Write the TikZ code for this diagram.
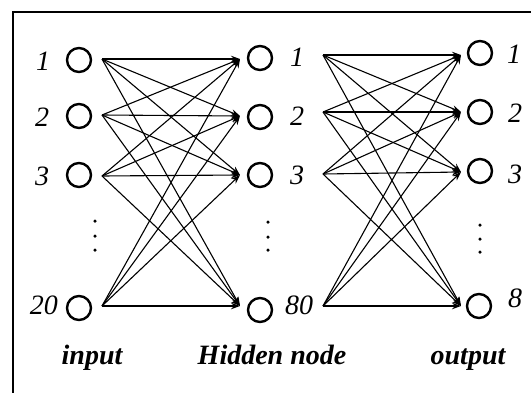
\documentclass[tikz,border=0pt]{standalone}
\usepackage{fontspec}
\setmainfont{Liberation Serif}
\usetikzlibrary{arrows.meta}
\begin{document}
\begin{tikzpicture}[x=1pt,y=-1pt,
  neuron/.style={draw, line width=2.4pt, circle, minimum size=24pt, inner sep=0pt},
  idx/.style={font=\fontsize{28}{28}\selectfont\itshape, inner sep=0pt},
  caption/.style={font=\fontsize{28}{28}\selectfont\bfseries\itshape, inner sep=0pt, anchor=base},
  link/.style={line width=1.1pt, -{Stealth[length=9pt,width=6.5pt]}},
  dot/.style={fill, circle, inner sep=0pt, minimum size=3.5pt}]
\useasboundingbox (0,0) rectangle (531,397);

% frame: top and left rules
\draw[line width=1.4pt] (531,12) -- (13,12) -- (13,393);

% input layer
\node[neuron] (i1)  at (79,60)  {};
\node[neuron] (i2)  at (79,116) {};
\node[neuron] (i3)  at (79,175) {};
\node[neuron] (i20) at (79,308) {};
\node[idx] (li1)  at (43,61)  {1};
\node[idx] (li2)  at (42,117) {2};
\node[idx] (li3)  at (42,176) {3};
\node[idx] (li20) at (44,305) {20};

% hidden layer
\node[neuron] (h1)  at (260,58)  {};
\node[neuron] (h2)  at (260,117) {};
\node[neuron] (h3)  at (260,175) {};
\node[neuron] (h80) at (260,310) {};
\node[idx] (lh1)  at (297,57)  {1};
\node[idx] (lh2)  at (297,116) {2};
\node[idx] (lh3)  at (297,175) {3};
\node[idx] (lh80) at (299,305) {80};

% output layer
\node[neuron] (o1) at (480,53)  {};
\node[neuron] (o2) at (480,112) {};
\node[neuron] (o3) at (480,171) {};
\node[neuron] (o8) at (479,306) {};
\node[idx] (lo1) at (514,54)  {1};
\node[idx] (lo2) at (515,113) {2};
\node[idx] (lo3) at (515,174) {3};
\node[idx] (lo8) at (515,298) {8};

% vertical ellipses
\foreach \x/\y/\n in {95/221/a,95/236/b,95/250/c,268/222/d,268/237/e,268/250/f,480/225/g,480/239/h,480/252/k}
  \node[dot] (d\n) at (\x,\y) {};

% connection anchors
\coordinate (si1)  at (102,59);
\coordinate (si2)  at (102,115);
\coordinate (si3)  at (102,176);
\coordinate (si20) at (102,306);
\coordinate (ti1)  at (240,59);
\coordinate (ti2)  at (240,116);
\coordinate (ti3)  at (240,175);
\coordinate (ti80) at (240,306);
\coordinate (sh1)  at (323,55);
\coordinate (sh2)  at (323,112);
\coordinate (sh3)  at (323,174);
\coordinate (sh80) at (323,306);
\coordinate (to1)  at (461,55);
\coordinate (to2)  at (461,112);
\coordinate (to3)  at (461,172);
\coordinate (to8)  at (461,306);

% input -> hidden
\foreach \s in {si1,si2,si3,si20}
  \foreach \t in {ti1,ti2,ti3,ti80}
    \draw[link] (\s) -- (\t);

% hidden -> output
\foreach \s in {sh1,sh2,sh3,sh80}
  \foreach \t in {to1,to2,to3,to8}
    \draw[link] (\s) -- (\t);

% layer captions, on a common baseline
\node[caption] (cin)  at (92,364)  {input};
\node[caption] (chid) at (272,364) {Hidden node};
\node[caption] (cout) at (468,364) {output};
\end{tikzpicture}
\end{document}
